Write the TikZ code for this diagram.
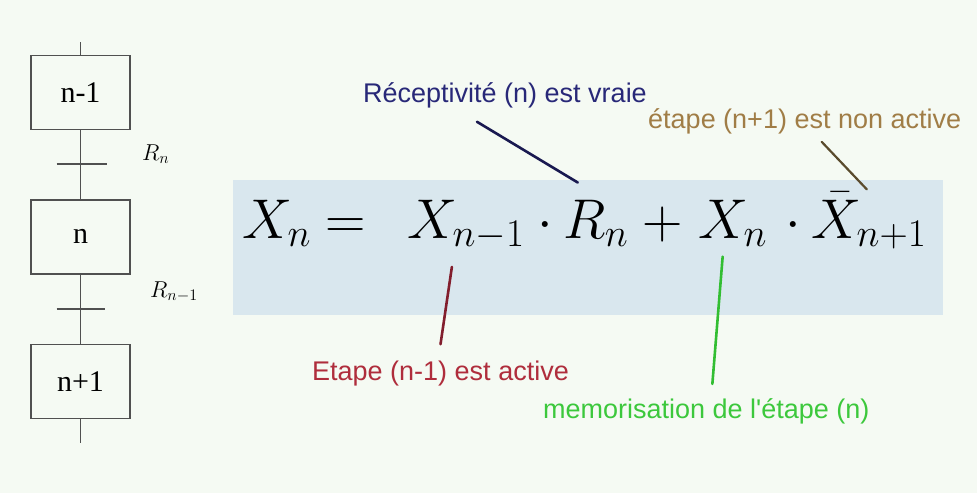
\RequirePackage{fix-cm}
\documentclass[tikz,border=0pt]{standalone}
\usepackage{fontspec}
\newfontfamily\labelfont{Liberation Sans}
\newfontfamily\stepfont{Liberation Serif}
\usetikzlibrary{positioning}
\definecolor{PageTint}{RGB}{245,250,243}
\definecolor{EqBlue}{RGB}{217,231,238}
\definecolor{StepGray}{RGB}{80,80,80}
\definecolor{RecepBlue}{RGB}{40,40,120}
\definecolor{LinkNavy}{RGB}{25,25,80}
\definecolor{EtapeTan}{RGB}{160,125,70}
\definecolor{LinkBrown}{RGB}{90,75,45}
\definecolor{ActiveRed}{RGB}{175,45,60}
\definecolor{LinkRed}{RGB}{130,30,45}
\definecolor{MemoGreen}{RGB}{60,200,60}
\definecolor{LinkGreen}{RGB}{50,190,50}

\begin{document}
\begin{tikzpicture}[x=1pt,y=-1pt,
    stepbox/.style={draw=StepGray, line width=1.4pt, minimum width=99pt, minimum height=74pt,
      inner sep=0pt, font=\stepfont\fontsize{30}{34}\selectfont},
    term/.style={anchor=base west, inner sep=0pt, font=\fontsize{56}{60}\selectfont},
    remark/.style={anchor=base west, inner sep=0pt, font=\labelfont\fontsize{27}{32}\selectfont},
    cond/.style={anchor=base west, inner sep=0pt, font=\fontsize{23}{27}\selectfont},
    link/.style={line width=2.6pt, line cap=round}]
  \fill[PageTint] (0,0) rectangle (977,493);
  \useasboundingbox (0,0) rectangle (977,493);

  % grafcet on the left
  \node[stepbox] (s1) at (80.5,92.5) {n-1};
  \node[stepbox, below=69pt of s1] (s2) {n};
  \node[stepbox, below=69pt of s2] (s3) {n+1};
  \coordinate (in) at (80.5,42);
  \coordinate (out) at (80.5,443);
  \coordinate (t1) at (80.5,164);
  \coordinate (t2) at (80.5,309);
  \draw[StepGray, line width=1.4pt] (in) -- (s1.north);
  \draw[StepGray, line width=1.4pt] (s1.south) -- (s2.north);
  \draw[StepGray, line width=1.4pt] (s2.south) -- (s3.north);
  \draw[StepGray, line width=1.4pt] (s3.south) -- (out);
  \draw[StepGray, line width=1.4pt] ([xshift=-24pt]t1) -- ([xshift=26pt]t1);
  \draw[StepGray, line width=1.4pt] ([xshift=-24pt]t2) -- ([xshift=24pt]t2);
  \node[cond] (r1) at (142,160) {$R_n$};
  \node[cond] (r2) at (150,297) {$R_{n-1}$};

  % equation
  \fill[EqBlue] (233,180) rectangle (943,315);
  \node[term] (xn) at (242,238) {$X_n$};
  \node[term] (eq) at (325,238) {$=$};
  \node[term] (xprev) at (407,238) {$X_{n-1}$};
  \node[term] (dot1) at (537,238) {$\cdot$};
  \node[term] (rn) at (563,238) {$R_n$};
  \node[term] (plus) at (642,238) {$+$};
  \node[term] (xmem) at (698,238) {$X_n$};
  \node[term] (dot2) at (785,238) {$\cdot$};
  \node[term] (xnext) at (811,238) {$\bar{X}_{n+1}$};

  % remarks
  \node[remark, text=RecepBlue] (recept) at (363,102) {Réceptivité (n) est vraie};
  \node[remark, text=EtapeTan] (nonact) at (648,128) {étape (n+1) est non active};
  \node[remark, text=ActiveRed] (active) at (312,380) {Etape (n-1) est active};
  \node[remark, text=MemoGreen] (memo) at (543,418) {memorisation de l'étape (n)};

  \draw[link, LinkNavy] ([shift={(-28,14)}]recept.south) -- ([shift={(-18,-17)}]rn.north);
  \draw[link, LinkBrown, line width=2.2pt] ([shift={(17,8)}]nonact.south) -- ([shift={(-2,-3)}]xnext.north);
  \draw[link, LinkRed] ([shift={(-14,17)}]xprev.south) -- ([shift={(0,-16)}]active.north);
  \draw[link, LinkGreen] ([shift={(-10,10)}]xmem.south) -- ([shift={(6,-14)}]memo.north);
\end{tikzpicture}
\end{document}
